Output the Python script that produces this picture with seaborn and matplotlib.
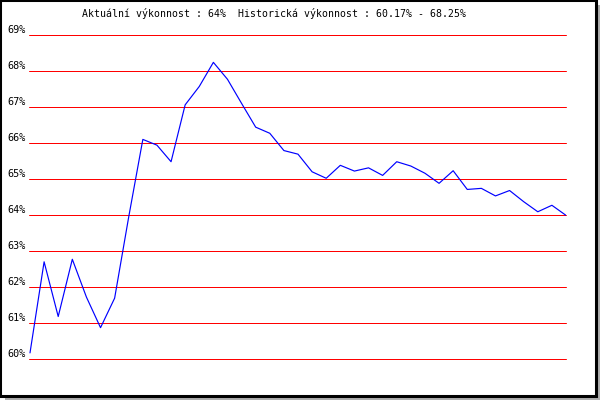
import numpy as np
import pandas as pd
import matplotlib
matplotlib.use("Agg")
import matplotlib.pyplot as plt
import matplotlib.transforms as mtransforms
from matplotlib.patches import Rectangle
import seaborn as sns

# ---- data ----
values = [60.17, 62.70, 61.18, 62.77, 61.72, 60.87, 61.69, 63.95, 66.10, 65.94,
          65.48, 67.06, 67.57, 68.24, 67.77, 67.10, 66.44, 66.27, 65.79, 65.69,
          65.20, 65.02, 65.38, 65.22, 65.31, 65.10, 65.48, 65.36, 65.16, 64.88,
          65.23, 64.71, 64.74, 64.53, 64.68, 64.37, 64.09, 64.27, 63.99]
y_ticks = [60, 61, 62, 63, 64, 65, 66, 67, 68, 69]
y_tick_labels = [f"{v}%" for v in y_ticks]
title_text = "Aktuální výkonnost : 64%  Historická výkonnost : 60.17% - 68.25%"

df = pd.DataFrame({"idx": np.arange(len(values)), "val": values})

sns.set_style("white")
plt.rcParams['font.family'] = ['DejaVu Sans Mono', 'DejaVu Sans']
plt.rcParams['text.color'] = 'black'
plt.rcParams['ytick.color'] = 'black'

W, H = 600, 400
fig = plt.figure(figsize=(W / 100, H / 100), dpi=100)
fig.patch.set_facecolor("white")

# frame with shadow
px = lambda x: x / W
py = lambda y: 1 - y / H
fig.patches.append(Rectangle((px(5), 0), px(595), 4 / H, transform=fig.transFigure,
                             facecolor="#adadad", edgecolor="none", zorder=0))
fig.patches.append(Rectangle((px(596), 0), 4 / W, 1 - 5 / H, transform=fig.transFigure,
                             facecolor="#adadad", edgecolor="none", zorder=0))
fig.patches.append(Rectangle((0, py(396)), px(596), 396 / H, transform=fig.transFigure,
                             facecolor="none", edgecolor="black", linewidth=2.2, zorder=1))

# axes: x from 29 to 566 px, y 69% at 35 px, 60% at 359 px
ax = fig.add_axes([px(29), py(359), px(537), (359 - 35) / H])
ax.set_facecolor("none")
for s in ax.spines.values():
    s.set_visible(False)

for v in y_ticks:
    ax.axhline(v, color="#ff0000", linewidth=0.72, zorder=1, clip_on=False)

sns.lineplot(data=df, x="idx", y="val", color="#0000ff", linewidth=0.85, ax=ax, zorder=3)

ax.set_xlim(-1 / 14.1, len(values) - 1)
ax.set_ylim(60, 69)
ax.set_xticks([])
ax.set_yticks(y_ticks)
ax.set_yticklabels(y_tick_labels, fontsize=7.3, color="black")
ax.tick_params(axis="y", length=0, pad=2.2)
offset = mtransforms.ScaledTranslation(0, 6 / 100, fig.dpi_scale_trans)
for lab in ax.get_yticklabels():
    lab.set_transform(lab.get_transform() + offset)
ax.set_xlabel("")
ax.set_ylabel("")
ax.grid(False)

fig.text(px(82), py(13.5), title_text, fontsize=7.15, ha="left", va="center",
         color="black")

fig.savefig("out.png", dpi=100)
